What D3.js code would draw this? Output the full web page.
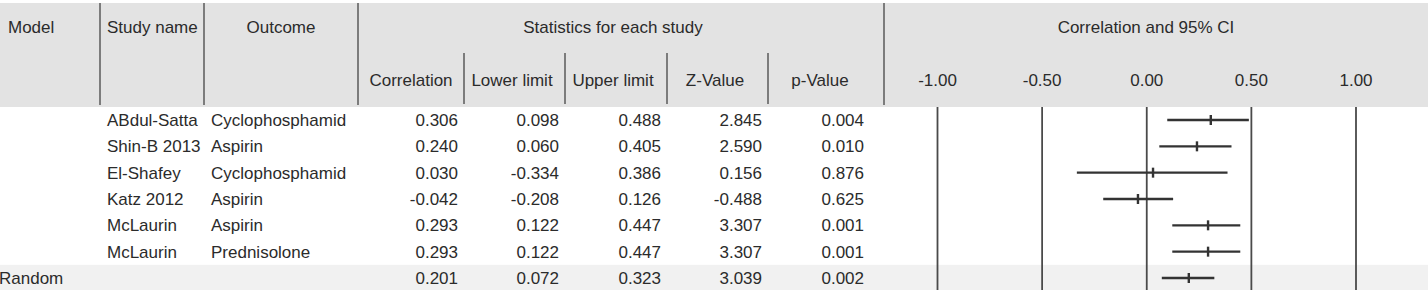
<!DOCTYPE html>
<html>
<head>
<meta charset="utf-8">
<script src="https://cdn.jsdelivr.net/npm/d3@7"></script>
<style>
  body { margin: 0; background: #fff; }
  svg text { font-family: "Liberation Sans", Arial, sans-serif; font-size: 17px; fill: #2b2b2b; }
</style>
</head>
<body>
<div id="chart"></div>
<script>
// data
const studies = ["ABdul-Satta", "Shin-B 2013", "El-Shafey", "Katz 2012", "McLaurin", "McLaurin"];
const outcomes = ["Cyclophosphamid", "Aspirin", "Cyclophosphamid", "Aspirin", "Aspirin", "Prednisolone"];
const correlation = [0.306, 0.240, 0.030, -0.042, 0.293, 0.293];
const lowerLimit = [0.098, 0.060, -0.334, -0.208, 0.122, 0.122];
const upperLimit = [0.488, 0.405, 0.386, 0.126, 0.447, 0.447];
const zValue = [2.845, 2.590, 0.156, -0.488, 3.307, 3.307];
const pValue = [0.004, 0.010, 0.876, 0.625, 0.001, 0.001];
const summary = { model: "Random", corr: 0.201, lower: 0.072, upper: 0.323, z: 3.039, p: 0.002 };
const axisTicks = [-1, -0.5, 0, 0.5, 1];
const statHeaders = ["Correlation", "Lower limit", "Upper limit", "Z-Value", "p-Value"];

const width = 1428, height = 290;
const svg = d3.select("#chart").append("svg")
  .attr("width", width).attr("height", height);

const headTop = 3, headBottom = 107;
const x = d3.scaleLinear().domain([-1, 1]).range([937.5, 1356]);
const nRows = studies.length + 1;
const y = d3.scaleLinear().domain([0, nRows - 1]).range([120, 278]);
const rowH = y(1) - y(0);

// header background
svg.append("rect")
  .attr("x", 0).attr("y", headTop).attr("width", width).attr("height", headBottom - headTop)
  .attr("fill", "#e3e3e3");

// summary row band
svg.append("rect")
  .attr("x", 0).attr("y", y(nRows - 1) - rowH / 2).attr("width", width).attr("height", height - (y(nRows - 1) - rowH / 2))
  .attr("fill", "#f1f1f1");

// header separators
const sep = "#5a5a5a";
[100, 204, 358, 884].forEach(sx => {
  svg.append("line").attr("x1", sx).attr("x2", sx).attr("y1", headTop).attr("y2", headBottom - 2)
    .attr("stroke", sep).attr("stroke-width", 1.5);
});
const statRight = [464, 565, 667, 768, 870];
statRight.slice(0, 4).forEach(sx => {
  svg.append("line").attr("x1", sx).attr("x2", sx).attr("y1", 53).attr("y2", headBottom - 3)
    .attr("stroke", sep).attr("stroke-width", 1.5);
});

// header texts
svg.append("text").attr("x", 8).attr("y", 33).text("Model");
svg.append("text").attr("x", 107).attr("y", 33).text("Study name");
svg.append("text").attr("x", 281).attr("y", 33).attr("text-anchor", "middle").text("Outcome");
svg.append("text").attr("x", 613).attr("y", 33).attr("text-anchor", "middle").text("Statistics for each study");
svg.append("text").attr("x", 1146).attr("y", 33).attr("text-anchor", "middle").text("Correlation and 95% CI");

const statCenter = [411, 512, 613, 715, 820];
statHeaders.forEach((h, i) => {
  svg.append("text")
    .attr("x", statCenter[i]).attr("y", 86)
    .attr("text-anchor", "middle").text(h);
});

// axis tick labels
const f2 = d => d3.format(".2f")(d).replace("−", "-");
svg.selectAll(".tick-label").data(axisTicks).enter().append("text")
  .attr("class", "tick-label")
  .attr("x", d => x(d)).attr("y", 86).attr("text-anchor", "middle")
  .text(f2);

// vertical reference lines
svg.selectAll(".ref").data(axisTicks).enter().append("line")
  .attr("class", "ref")
  .attr("x1", d => x(d)).attr("x2", d => x(d))
  .attr("y1", headBottom).attr("y2", height)
  .attr("stroke", "#4a4a4a").attr("stroke-width", 1.8);

// table rows
const rows = studies.map((s, i) => ({
  study: s, outcome: outcomes[i], corr: correlation[i], lower: lowerLimit[i],
  upper: upperLimit[i], z: zValue[i], p: pValue[i], model: ""
}));
rows.push({ study: "", outcome: "", ...summary });

const f3 = d => d3.format(".3f")(d).replace("−", "-");
const baseOff = 6;
rows.forEach((r, i) => {
  const ty = y(i) + baseOff;
  if (r.model) svg.append("text").attr("x", -1).attr("y", ty).text(r.model);
  svg.append("text").attr("x", 107).attr("y", ty).text(r.study);
  svg.append("text").attr("x", 211).attr("y", ty).text(r.outcome);
  [r.corr, r.lower, r.upper, r.z, r.p].forEach((v, j) => {
    svg.append("text").attr("x", statRight[j] - 6).attr("y", ty)
      .attr("text-anchor", "end").text(f3(v));
  });
});

// confidence intervals
const ci = svg.append("g");
ci.selectAll(".ci").data(rows).enter().append("line")
  .attr("x1", d => x(d.lower)).attr("x2", d => x(d.upper))
  .attr("y1", (d, i) => y(i)).attr("y2", (d, i) => y(i))
  .attr("stroke", "#333").attr("stroke-width", 2.4);
ci.selectAll(".pt").data(rows).enter().append("line")
  .attr("x1", d => x(d.corr)).attr("x2", d => x(d.corr))
  .attr("y1", (d, i) => y(i) - 5).attr("y2", (d, i) => y(i) + 5)
  .attr("stroke", "#333").attr("stroke-width", 2.4);
</script>
</body>
</html>
